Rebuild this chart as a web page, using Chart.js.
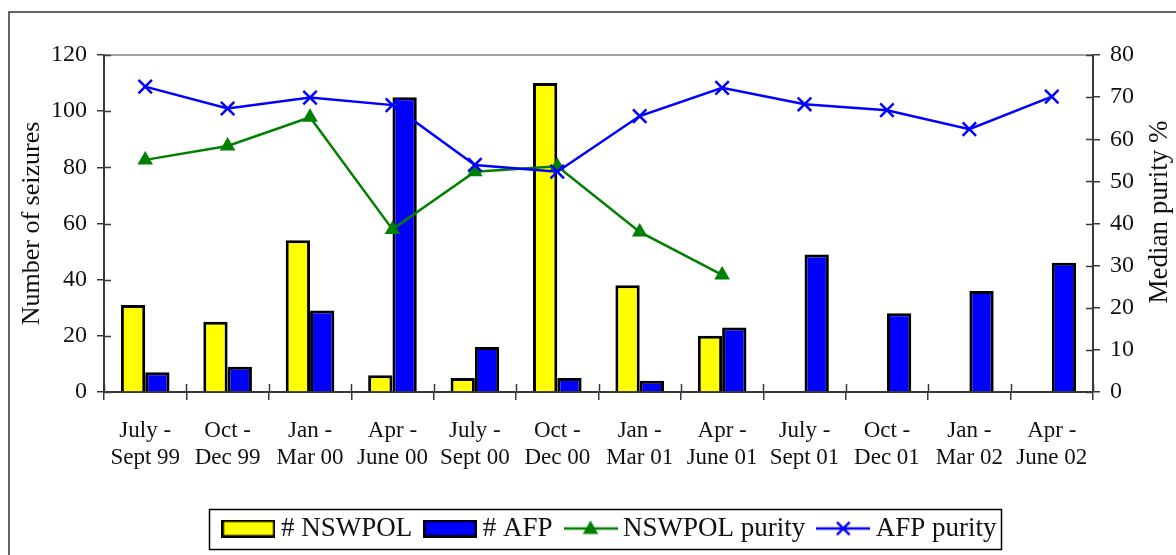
<!DOCTYPE html>
<html>
<head>
<meta charset="utf-8">
<script src="https://cdn.jsdelivr.net/npm/chart.js@4/dist/chart.umd.min.js"></script>
<style>
  html, body { margin: 0; padding: 0; background: #fff; overflow: hidden; }
  #wrap { position: relative; width: 1176px; height: 555px; }
  canvas { display: block; }
</style>
</head>
<body>
<div id="wrap"><canvas id="c" width="1176" height="555"></canvas></div>
<script>
// Quarterly periods (two-line category labels)
const periods = [
  ['July -', 'Sept 99'], ['Oct -', 'Dec 99'], ['Jan -', 'Mar 00'], ['Apr -', 'June 00'],
  ['July -', 'Sept 00'], ['Oct -', 'Dec 00'], ['Jan -', 'Mar 01'], ['Apr -', 'June 01'],
  ['July -', 'Sept 01'], ['Oct -', 'Dec 01'], ['Jan -', 'Mar 02'], ['Apr -', 'June 02']
];

// Number of seizures per quarter
const nswpolSeizures = [31, 25, 54, 6, 5, 110, 38, 20, null, null, null, null];
const afpSeizures    = [7, 9, 29, 105, 16, 5, 4, 23, 49, 28, 36, 46];

// Median purity (%) per quarter
const nswpolPurity = [55.1, 58.4, 65.2, 38.6, 52.3, 53.6, 38.0, 27.8, null, null, null, null];
const afpPurity    = [72.5, 67.3, 69.9, 68.1, 53.9, 52.3, 65.5, 72.2, 68.3, 66.9, 62.4, 70.1];

// Axis ranges
const seizureAxis = { min: 0, max: 120, step: 20 };
const purityAxis  = { min: 0, max: 80, step: 10 };

const legendLabels = ['# NSWPOL', '# AFP', 'NSWPOL purity', 'AFP purity'];

const SERIF = '"Liberation Serif", "Times New Roman", serif';
const YELLOW = '#FFFF00', BLUE = '#0000FF', GREEN = '#008000';
const AXIS = '#3a3a3a';
const LEGEND_FONT = 27;
const SWATCH_SLOT = 38;

// Legend swatches: filled box for bars, short line with marker for lines
function barSwatch(fill) {
  const c = document.createElement('canvas');
  c.width = 54; c.height = 18;
  const g = c.getContext('2d');
  g.fillStyle = fill; g.fillRect(1, 1, 52, 16);
  g.strokeStyle = '#000'; g.lineWidth = 2.5; g.strokeRect(1.25, 1.25, 51.5, 15.5);
  return c;
}
function lineSwatch(color, marker) {
  const c = document.createElement('canvas');
  c.width = 54; c.height = 20;
  const g = c.getContext('2d');
  g.strokeStyle = color; g.lineWidth = 2.5;
  g.beginPath(); g.moveTo(0, 10); g.lineTo(54, 10); g.stroke();
  if (marker === 'triangle') {
    const r = 9, cx = 27, cy = 11;
    g.fillStyle = color;
    g.beginPath();
    g.moveTo(cx, cy - r);
    g.lineTo(cx + r * Math.sin(2 * Math.PI / 3), cy - r * Math.cos(2 * Math.PI / 3));
    g.lineTo(cx + r * Math.sin(4 * Math.PI / 3), cy - r * Math.cos(4 * Math.PI / 3));
    g.closePath(); g.fill();
  } else {
    const d = 6.4, cx = 27, cy = 10;
    g.beginPath();
    g.moveTo(cx - d, cy - d); g.lineTo(cx + d, cy + d);
    g.moveTo(cx + d, cy - d); g.lineTo(cx - d, cy + d);
    g.stroke();
  }
  return c;
}
const swatches = [barSwatch(YELLOW), barSwatch(BLUE), lineSwatch(GREEN, 'triangle'), lineSwatch(BLUE, 'cross')];

const LEGEND_SHIFT = 25;

const decorPlugin = {
  id: 'decor',
  beforeDraw(chart) {
    const ctx = chart.ctx;
    ctx.save();
    ctx.fillStyle = '#fff';
    ctx.fillRect(0, 0, chart.width, chart.height);
    // outer figure frame
    ctx.strokeStyle = '#333';
    ctx.lineWidth = 1.5;
    ctx.beginPath();
    ctx.moveTo(9, chart.height);
    ctx.lineTo(9, 12);
    ctx.lineTo(chart.width, 12);
    ctx.stroke();
    ctx.restore();
  },
  afterLayout(chart) {
    chart.legend.left += LEGEND_SHIFT;
    chart.legend.right += LEGEND_SHIFT;
  },
  afterDraw(chart) {
    const ctx = chart.ctx;
    const a = chart.chartArea;
    const yL = chart.scales.y, yR = chart.scales.y1, x = chart.scales.x;
    ctx.save();
    // plot-area top border
    ctx.strokeStyle = '#808080';
    ctx.lineWidth = 1.5;
    ctx.beginPath();
    ctx.moveTo(a.left, a.top);
    ctx.lineTo(a.right, a.top);
    ctx.stroke();
    // inner halves of the cross tick marks
    ctx.strokeStyle = AXIS;
    ctx.lineWidth = 1.5;
    ctx.beginPath();
    yL.ticks.forEach(t => {
      const py = Math.round(yL.getPixelForValue(t.value)) + 0.5;
      ctx.moveTo(a.left, py); ctx.lineTo(a.left + 7, py);
    });
    yR.ticks.forEach(t => {
      const py = Math.round(yR.getPixelForValue(t.value)) + 0.5;
      ctx.moveTo(a.right, py); ctx.lineTo(a.right - 7, py);
    });
    const n = periods.length;
    for (let i = 0; i <= n; i++) {
      const px = Math.round(x.left + i * x.width / n) + 0.5;
      ctx.moveTo(px, a.bottom); ctx.lineTo(px, a.bottom - 8);
    }
    ctx.stroke();
    // right axis title, reading bottom to top
    ctx.fillStyle = '#111';
    ctx.font = '27px ' + SERIF;
    ctx.textAlign = 'center';
    ctx.textBaseline = 'middle';
    ctx.translate(1160, 212);
    ctx.rotate(-Math.PI / 2);
    ctx.fillText('Median purity %', 0, 0);
    ctx.restore();
    // legend frame
    const hb = chart.legend.legendHitBoxes;
    if (hb && hb.length) {
      ctx.save();
      ctx.font = LEGEND_FONT + 'px ' + SERIF;
      const last = hb[hb.length - 1];
      const lastText = ctx.measureText(legendLabels[legendLabels.length - 1]).width;
      const cy = hb[0].top + hb[0].height / 2;
      const left = hb[0].left - 20;
      const right = last.left + SWATCH_SLOT + LEGEND_FONT / 2 + lastText + 5;
      ctx.strokeStyle = '#000';
      ctx.lineWidth = 1.5;
      ctx.strokeRect(Math.round(left) + 0.5, Math.round(cy - 20) + 0.5, Math.round(right - left), 40);
      ctx.restore();
    }
  }
};

const ctx = document.getElementById('c').getContext('2d');
new Chart(ctx, {
  type: 'bar',
  data: {
    labels: periods,
    datasets: [
      {
        type: 'bar', label: legendLabels[0], data: nswpolSeizures, yAxisID: 'y', order: 2,
        backgroundColor: YELLOW, borderColor: '#000', borderWidth: 3,
        categoryPercentage: 0.59, barPercentage: 1.0
      },
      {
        type: 'bar', label: legendLabels[1], data: afpSeizures, yAxisID: 'y', order: 2,
        backgroundColor: BLUE, borderColor: '#000', borderWidth: 3,
        categoryPercentage: 0.59, barPercentage: 1.0
      },
      {
        type: 'line', label: legendLabels[2], data: nswpolPurity, yAxisID: 'y1', order: 1,
        borderColor: GREEN, backgroundColor: GREEN, borderWidth: 2.5, tension: 0,
        pointStyle: 'triangle', pointRadius: 9, pointBorderWidth: 0, pointBackgroundColor: GREEN,
        spanGaps: false
      },
      {
        type: 'line', label: legendLabels[3], data: afpPurity, yAxisID: 'y1', order: 0,
        borderColor: BLUE, backgroundColor: BLUE, borderWidth: 2.5, tension: 0,
        pointStyle: 'crossRot', pointRadius: 9.5, pointBorderWidth: 2.5, pointBorderColor: BLUE
      }
    ]
  },
  options: {
    responsive: false,
    animation: false,
    layout: { padding: { top: 55, left: 0, right: 0, bottom: 3 } },
    plugins: {
      tooltip: { enabled: false },
      legend: {
        display: true,
        position: 'bottom',
        labels: {
          usePointStyle: true,
          pointStyleWidth: SWATCH_SLOT,
          padding: 19,
          color: '#111',
          font: { family: SERIF, size: LEGEND_FONT },
          generateLabels: (chart) => chart.data.datasets.map((ds, i) => ({
            text: ds.label,
            pointStyle: swatches[i],
            fillStyle: 'transparent',
            strokeStyle: 'transparent',
            lineWidth: 0,
            hidden: false,
            datasetIndex: i,
            fontColor: '#111'
          }))
        }
      }
    },
    scales: {
      x: {
        type: 'category',
        offset: true,
        grid: { offset: true, drawOnChartArea: false, tickLength: 8, color: AXIS, lineWidth: 1.5 },
        border: { color: AXIS, width: 2 },
        ticks: {
          color: '#111', padding: 17, maxRotation: 0, autoSkip: false,
          font: { family: SERIF, size: 23, lineHeight: 1.2 }
        },
        afterFit: (s) => { s.height = 104; }
      },
      y: {
        position: 'left',
        min: seizureAxis.min, max: seizureAxis.max,
        grid: { drawOnChartArea: false, tickLength: 7, color: AXIS, lineWidth: 1.5 },
        border: { color: AXIS, width: 2 },
        ticks: { stepSize: seizureAxis.step, color: '#111', padding: 10, font: { family: SERIF, size: 24 } },
        title: {
          display: true, text: 'Number of seizures', color: '#111',
          font: { family: SERIF, size: 26 }, padding: { top: 17, bottom: 0 }
        },
        afterFit: (s) => { s.width = 104; }
      },
      y1: {
        position: 'right',
        min: purityAxis.min, max: purityAxis.max,
        grid: { drawOnChartArea: false, tickLength: 7, color: AXIS, lineWidth: 1.5 },
        border: { color: AXIS, width: 2 },
        ticks: { stepSize: purityAxis.step, color: '#111', padding: 10, font: { family: SERIF, size: 24 } },
        afterFit: (s) => { s.width = 83; }
      }
    }
  },
  plugins: [decorPlugin]
});
</script>
</body>
</html>
